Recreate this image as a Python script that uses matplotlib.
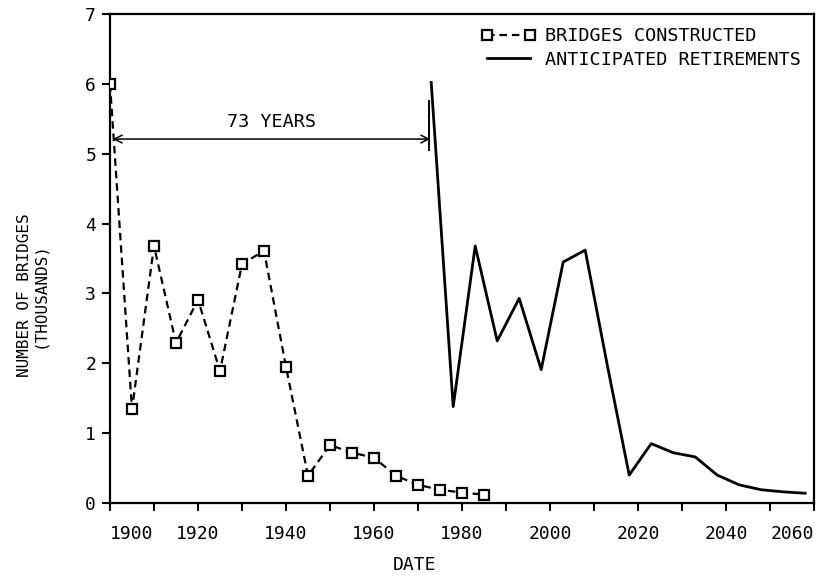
import matplotlib.pyplot as plt

# Bridges built per five-year period (thousands)
built_years = [1900, 1905, 1910, 1915, 1920, 1925, 1930, 1935, 1940,
               1945, 1950, 1955, 1960, 1965, 1970, 1975, 1980, 1985]
built_counts = [6.0, 1.34, 3.68, 2.29, 2.91, 1.89, 3.42, 3.61, 1.95,
                0.39, 0.83, 0.72, 0.65, 0.39, 0.26, 0.19, 0.15, 0.12]

# Retirements expected after a 73-year service life (thousands)
retire_years = [1973, 1978, 1983, 1988, 1993, 1998, 2003, 2008, 2013,
                2018, 2023, 2028, 2033, 2038, 2043, 2048, 2053, 2058]
retire_counts = [6.02, 1.38, 3.68, 2.32, 2.93, 1.91, 3.45, 3.62, 1.98,
                 0.40, 0.85, 0.72, 0.66, 0.40, 0.26, 0.19, 0.16, 0.14]

x_ticks = list(range(1900, 2061, 10))
x_ticklabels = [str(y) if y % 20 == 0 else '' for y in x_ticks]
y_ticks = [0, 1, 2, 3, 4, 5, 6, 7]

span_start, span_end, span_level = 1900.6, 1972.8, 5.21
span_text = '73 YEARS'

plt.rcParams['font.family'] = ['DejaVu Sans Mono']

fig = plt.figure(figsize=(8.19, 5.76), dpi=100)
ax = fig.add_axes([0.1343, 0.1267, 0.8596, 0.849])

ax.plot(built_years, built_counts, color='black', lw=1.6, ls=(0, (3.4, 2.2)),
        marker='s', ms=7.5, mfc='white', mec='black', mew=1.6,
        label='BRIDGES CONSTRUCTED', zorder=3)
ax.plot(retire_years, retire_counts, color='black', lw=2.0,
        label='ANTICIPATED RETIREMENTS', zorder=2)

# service-life span arrow
ax.annotate('', xy=(span_end, span_level), xytext=(span_start, span_level),
            arrowprops=dict(arrowstyle='<->', color='black', lw=1.1,
                            shrinkA=0, shrinkB=0, mutation_scale=14))
ax.plot([span_end - 0.3, span_end - 0.3], [5.05, 5.75], color='black', lw=1.4)
ax.text((span_start + span_end) / 2, span_level + 0.12, span_text,
        ha='center', va='bottom', fontsize=13.3)

ax.set_xlim(1900, 2060)
ax.set_ylim(0, 7)
ax.set_xticks(x_ticks)
ax.set_xticklabels(x_ticklabels, fontsize=13)
ax.set_yticks(y_ticks)
ax.set_yticklabels([str(v) for v in y_ticks], fontsize=13)
ax.tick_params(axis='both', direction='out', length=6, width=1.5, colors='black')
ax.tick_params(axis='x', pad=10)
ax.tick_params(axis='y', pad=4)

labels = ax.get_xticklabels()
labels[0].set_horizontalalignment('left')
labels[-1].set_horizontalalignment('right')

for side in ax.spines.values():
    side.set_linewidth(1.6)
    side.set_color('black')

fig.text(415 / 819, 1 - 565 / 576, 'DATE', ha='center', va='center', fontsize=13)
fig.text(32 / 819, 1 - 295 / 576, 'NUMBER OF BRIDGES\n(THOUSANDS)',
         rotation=90, ha='center', va='center', fontsize=11.5,
         multialignment='center', linespacing=1.0)

ax.legend(loc='upper left', bbox_to_anchor=(0.528, 0.973), frameon=False,
          numpoints=2, handlelength=2.9, handletextpad=0.5,
          labelspacing=0.31, borderaxespad=0, borderpad=0, fontsize=13.3)

fig.savefig('out.png', dpi=100)
